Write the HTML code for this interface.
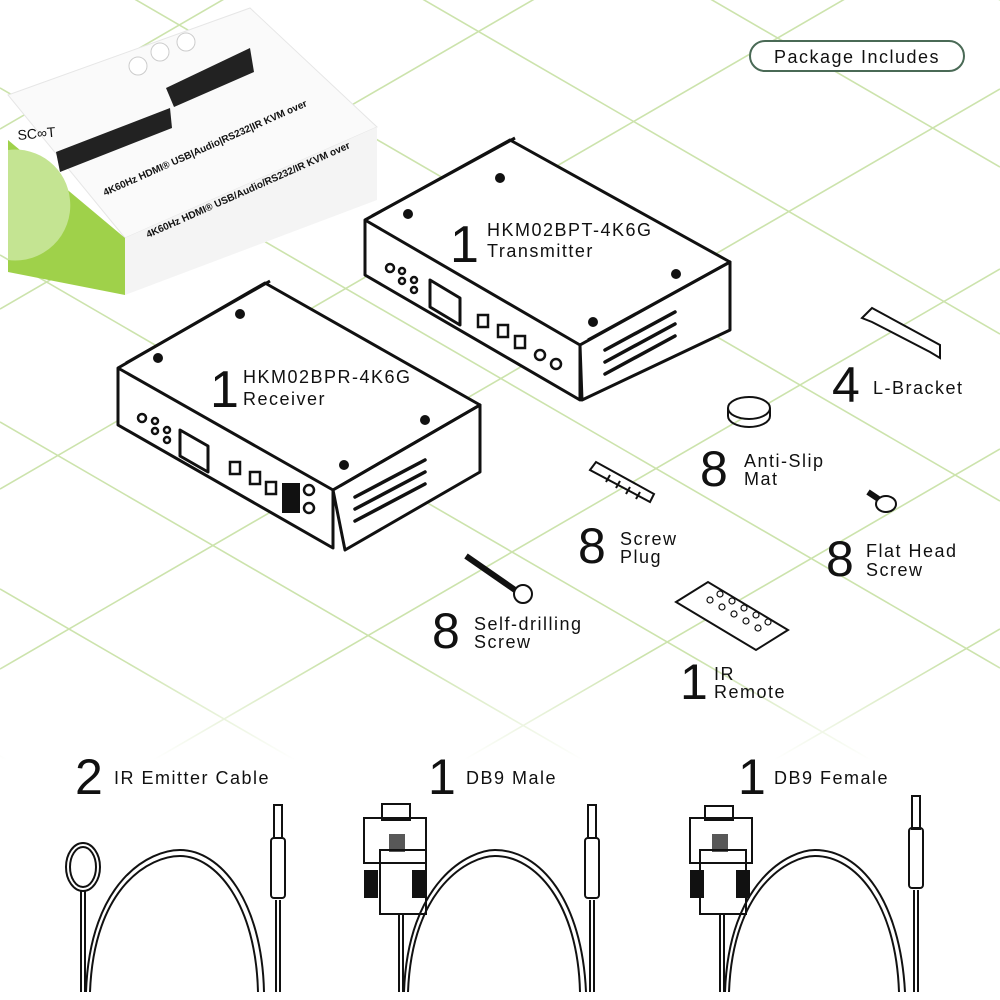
<!DOCTYPE html>
<html><head><meta charset="utf-8"><style>
html,body{margin:0;padding:0;background:#fff;width:1000px;height:1000px;overflow:hidden}
svg{display:block}
text{font-family:"Liberation Sans",sans-serif;fill:#111}
</style></head><body>
<svg width="1000" height="1000" viewBox="0 0 1000 1000" xmlns="http://www.w3.org/2000/svg">
<defs>
<linearGradient id="fade" x1="0" y1="0" x2="0" y2="1">
<stop offset="0" stop-color="#fff" stop-opacity="1"/><stop offset="0.66" stop-color="#fff" stop-opacity="1"/><stop offset="0.76" stop-color="#fff" stop-opacity="0"/>
</linearGradient>
<mask id="m"><rect width="1000" height="1000" fill="url(#fade)"/></mask>
</defs>
<g mask="url(#m)" stroke="#cce3ac" stroke-width="1.6">
<line x1="0" y1="-580" x2="1000" y2="0"/>
<line x1="0" y1="-413" x2="1000" y2="167"/>
<line x1="0" y1="-246" x2="1000" y2="334"/>
<line x1="0" y1="-79" x2="1000" y2="501"/>
<line x1="0" y1="88" x2="1000" y2="668"/>
<line x1="0" y1="255" x2="1000" y2="835"/>
<line x1="0" y1="422" x2="1000" y2="1002"/>
<line x1="0" y1="589" x2="1000" y2="1169"/>
<line x1="0" y1="756" x2="1000" y2="1336"/>
<line x1="0" y1="129" x2="1000" y2="-451"/>
<line x1="0" y1="309" x2="1000" y2="-271"/>
<line x1="0" y1="489" x2="1000" y2="-91"/>
<line x1="0" y1="669" x2="1000" y2="89"/>
<line x1="0" y1="849" x2="1000" y2="269"/>
<line x1="0" y1="1029" x2="1000" y2="449"/>
<line x1="0" y1="1209" x2="1000" y2="629"/>
<line x1="0" y1="1389" x2="1000" y2="809"/>
</g>

<!-- package box -->
<polygon points="8,95 250,8 377,127 125,238" fill="#fafafa" stroke="#e6e6e6"/>
<polygon points="8,140 125,238 125,295 8,272" fill="#9fd14a"/>
<path d="M8 150 A55 55 0 0 1 70 200 A55 55 0 0 1 8 260 Z" fill="#c4e492"/>
<polygon points="125,238 377,127 377,200 125,295" fill="#f4f4f4"/>
<polygon points="56,152 170,108 172,128 60,172" fill="#222"/>
<polygon points="166,88 250,48 254,72 174,107" fill="#222"/>
<text x="18" y="140" font-size="14" transform="rotate(-5 18 140)" fill="#333">SC∞T</text>
<text x="105" y="196" font-size="10" font-weight="bold" fill="#8cc63f" transform="rotate(-24 105 196)">4K60Hz HDMI® USB|Audio|RS232|IR KVM over</text>
<text x="148" y="238" font-size="10" font-weight="bold" fill="#8cc63f" transform="rotate(-24 148 238)">4K60Hz HDMI® USB/Audio/RS232/IR KVM over</text>
<circle cx="138" cy="66" r="9" fill="#fff" stroke="#ccc"/><circle cx="160" cy="52" r="9" fill="#fff" stroke="#ccc"/><circle cx="186" cy="42" r="9" fill="#fff" stroke="#ccc"/>

<rect x="750" y="41" width="214" height="30" rx="15" fill="#fff" stroke="#4a6a56" stroke-width="2"/>
<text x="857" y="63" font-size="18" text-anchor="middle" fill="#3a5a46" letter-spacing="1.5">Package Includes</text>

<!-- transmitter -->
<g stroke="#111" stroke-width="3" stroke-linejoin="round" fill="#fff">
<polygon points="365,220 510,140 730,262 580,345 580,400 365,275"/>
<polygon points="580,345 730,262 730,330 582,400"/>
<polyline points="365,220 580,345" fill="none"/>
<polyline points="372,216 515,138" fill="none"/>
<polyline points="588,340 730,262" fill="none"/>
<polygon points="430,280 460,298 460,325 430,307"/>
</g>
<g fill="#111"><circle cx="408" cy="214" r="5"/><circle cx="500" cy="178" r="5"/><circle cx="676" cy="274" r="5"/><circle cx="593" cy="322" r="5"/></g>
<text x="450" y="262" font-size="52">1</text>
<text x="487" y="236" font-size="18" letter-spacing="1.5">HKM02BPT-4K6G</text>
<text x="487" y="257" font-size="18" letter-spacing="1.5">Transmitter</text>
<g stroke="#111" stroke-width="2.5" fill="#fff">
<circle cx="390" cy="268" r="4"/><circle cx="402" cy="271" r="3"/><circle cx="402" cy="281" r="3"/><circle cx="414" cy="280" r="3"/><circle cx="414" cy="290" r="3"/>
<rect x="478" y="315" width="10" height="12"/><rect x="498" y="325" width="10" height="12"/><rect x="515" y="336" width="10" height="12"/>
<circle cx="540" cy="355" r="5"/><circle cx="556" cy="364" r="5"/>
</g>
<g stroke="#111" stroke-width="3.5" stroke-linecap="round">
<line x1="605" y1="350" x2="675" y2="312"/><line x1="605" y1="362" x2="675" y2="324"/><line x1="605" y1="374" x2="675" y2="336"/>
</g>

<!-- receiver -->
<g stroke="#111" stroke-width="3" stroke-linejoin="round" fill="#fff">
<polygon points="118,368 265,283 480,405 333,490 333,548 118,425"/>
<polygon points="333,490 480,405 480,472 345,550"/>
<polyline points="118,368 333,490" fill="none"/>
<polyline points="126,363 270,281" fill="none"/>
<polyline points="340,486 480,405" fill="none"/>
<polygon points="180,430 208,446 208,472 180,456"/>
</g>
<g fill="#111"><circle cx="158" cy="358" r="5"/><circle cx="240" cy="314" r="5"/><circle cx="425" cy="420" r="5"/><circle cx="344" cy="465" r="5"/><rect x="282" y="483" width="18" height="30"/></g>
<text x="210" y="407" font-size="52">1</text>
<text x="243" y="383" font-size="18" letter-spacing="1.5">HKM02BPR-4K6G</text>
<text x="243" y="405" font-size="18" letter-spacing="1.5">Receiver</text>
<g stroke="#111" stroke-width="2.5" fill="#fff">
<circle cx="142" cy="418" r="4"/><circle cx="155" cy="421" r="3"/><circle cx="155" cy="431" r="3"/><circle cx="167" cy="430" r="3"/><circle cx="167" cy="440" r="3"/>
<rect x="230" y="462" width="10" height="12"/><rect x="250" y="472" width="10" height="12"/><rect x="266" y="482" width="10" height="12"/>
<circle cx="309" cy="490" r="5"/><circle cx="309" cy="508" r="5"/>
</g>
<g stroke="#111" stroke-width="3.5" stroke-linecap="round">
<line x1="355" y1="497" x2="425" y2="460"/><line x1="355" y1="509" x2="425" y2="472"/><line x1="355" y1="521" x2="425" y2="484"/>
</g>

<!-- small items -->
<polygon points="862,318 872,308 940,345 940,358 930,352 872,322" fill="#fff" stroke="#111" stroke-width="2"/>
<text x="832" y="402" font-size="50">4</text><text x="873" y="394" font-size="18" letter-spacing="1.5">L-Bracket</text>

<ellipse cx="749" cy="408" rx="21" ry="11" fill="#fff" stroke="#111" stroke-width="2"/><path d="M728 408 v8 a21 11 0 0 0 42 0 v-8" fill="none" stroke="#111" stroke-width="2"/>
<text x="700" y="486" font-size="50">8</text><text x="744" y="467" font-size="18" letter-spacing="1.5">Anti-Slip</text><text x="744" y="485" font-size="18" letter-spacing="1.5">Mat</text>

<g stroke="#111" stroke-width="2" fill="#fff"><polygon points="590,470 596,462 654,494 650,502"/><line x1="610" y1="475" x2="606" y2="482"/><line x1="620" y1="481" x2="616" y2="488"/><line x1="630" y1="487" x2="626" y2="494"/><line x1="640" y1="492" x2="636" y2="499"/></g>
<text x="578" y="563" font-size="50">8</text><text x="620" y="545" font-size="18" letter-spacing="1.5">Screw</text><text x="620" y="563" font-size="18" letter-spacing="1.5">Plug</text>

<g stroke="#111" stroke-width="2" fill="#fff"><line x1="868" y1="492" x2="880" y2="500" stroke-width="6"/><ellipse cx="886" cy="504" rx="10" ry="8"/></g>
<text x="826" y="576" font-size="50">8</text><text x="866" y="557" font-size="18" letter-spacing="1.5">Flat Head</text><text x="866" y="576" font-size="18" letter-spacing="1.5">Screw</text>

<g stroke="#111" stroke-width="2" fill="#fff"><path d="M466 556 L515 590" stroke-width="6"/><circle cx="523" cy="594" r="9"/></g>
<text x="432" y="648" font-size="50">8</text><text x="474" y="630" font-size="18" letter-spacing="1.5">Self-drilling</text><text x="474" y="648" font-size="18" letter-spacing="1.5">Screw</text>

<polygon points="676,602 708,582 788,630 756,650" fill="#fff" stroke="#111" stroke-width="2"/>
<g fill="none" stroke="#111" stroke-width="1.2"><circle cx="710" cy="600" r="3"/><circle cx="722" cy="607" r="3"/><circle cx="734" cy="614" r="3"/><circle cx="746" cy="621" r="3"/><circle cx="720" cy="594" r="3"/><circle cx="732" cy="601" r="3"/><circle cx="744" cy="608" r="3"/><circle cx="756" cy="615" r="3"/><circle cx="758" cy="628" r="3"/><circle cx="768" cy="622" r="3"/></g>
<text x="680" y="699" font-size="50">1</text><text x="714" y="680" font-size="18" letter-spacing="1.5">IR</text><text x="714" y="698" font-size="18" letter-spacing="1.5">Remote</text>

<!-- cables -->
<text x="75" y="794" font-size="50">2</text><text x="114" y="784" font-size="18" letter-spacing="1.5">IR Emitter Cable</text>
<text x="428" y="794" font-size="50">1</text><text x="466" y="784" font-size="18" letter-spacing="1.5">DB9 Male</text>
<text x="738" y="794" font-size="50">1</text><text x="774" y="784" font-size="18" letter-spacing="1.5">DB9 Female</text>

<g fill="none" stroke="#111" stroke-width="2">
<ellipse cx="83" cy="867" rx="17" ry="24"/><ellipse cx="83" cy="867" rx="13" ry="20"/>
<line x1="81" y1="891" x2="81" y2="992"/><line x1="85" y1="891" x2="85" y2="992"/>
<path d="M86 992 C90 880 150 850 180 850 C220 850 262 900 264 992"/><path d="M90 992 C94 886 150 856 180 856 C216 856 256 904 258 992"/>
<line x1="276" y1="992" x2="276" y2="900"/><line x1="280" y1="992" x2="280" y2="900"/>
<rect x="271" y="838" width="14" height="60" rx="3"/><rect x="274" y="805" width="8" height="33"/>
<rect x="380" y="850" width="46" height="64"/><rect x="364" y="818" width="62" height="45"/><rect x="382" y="804" width="28" height="16"/>
<line x1="399" y1="915" x2="399" y2="992"/><line x1="403" y1="915" x2="403" y2="992"/>
<path d="M404 992 C408 880 470 850 495 850 C540 850 582 900 586 992"/><path d="M408 992 C412 886 470 856 495 856 C536 856 578 904 580 992"/>
<line x1="590" y1="992" x2="590" y2="900"/><line x1="594" y1="992" x2="594" y2="900"/>
<rect x="585" y="838" width="14" height="60" rx="3"/><rect x="588" y="805" width="8" height="33"/>
<rect x="700" y="850" width="46" height="64"/><rect x="690" y="818" width="62" height="45"/><rect x="705" y="806" width="28" height="14"/>
<line x1="720" y1="915" x2="720" y2="992"/><line x1="724" y1="915" x2="724" y2="992"/>
<path d="M725 992 C729 880 790 850 815 850 C860 850 900 900 905 992"/><path d="M729 992 C733 886 790 856 815 856 C856 856 896 904 899 992"/>
<line x1="914" y1="992" x2="914" y2="890"/><line x1="918" y1="992" x2="918" y2="890"/>
<rect x="909" y="828" width="14" height="60" rx="3"/><rect x="912" y="796" width="8" height="33"/>
</g>
<g fill="#111"><rect x="364" y="870" width="14" height="28"/><rect x="412" y="870" width="14" height="28"/><rect x="690" y="870" width="14" height="28"/><rect x="736" y="870" width="14" height="28"/>
<rect x="389" y="834" width="16" height="18" opacity="0.7"/><rect x="712" y="834" width="16" height="18" opacity="0.7"/></g>
</svg>
</body></html>
